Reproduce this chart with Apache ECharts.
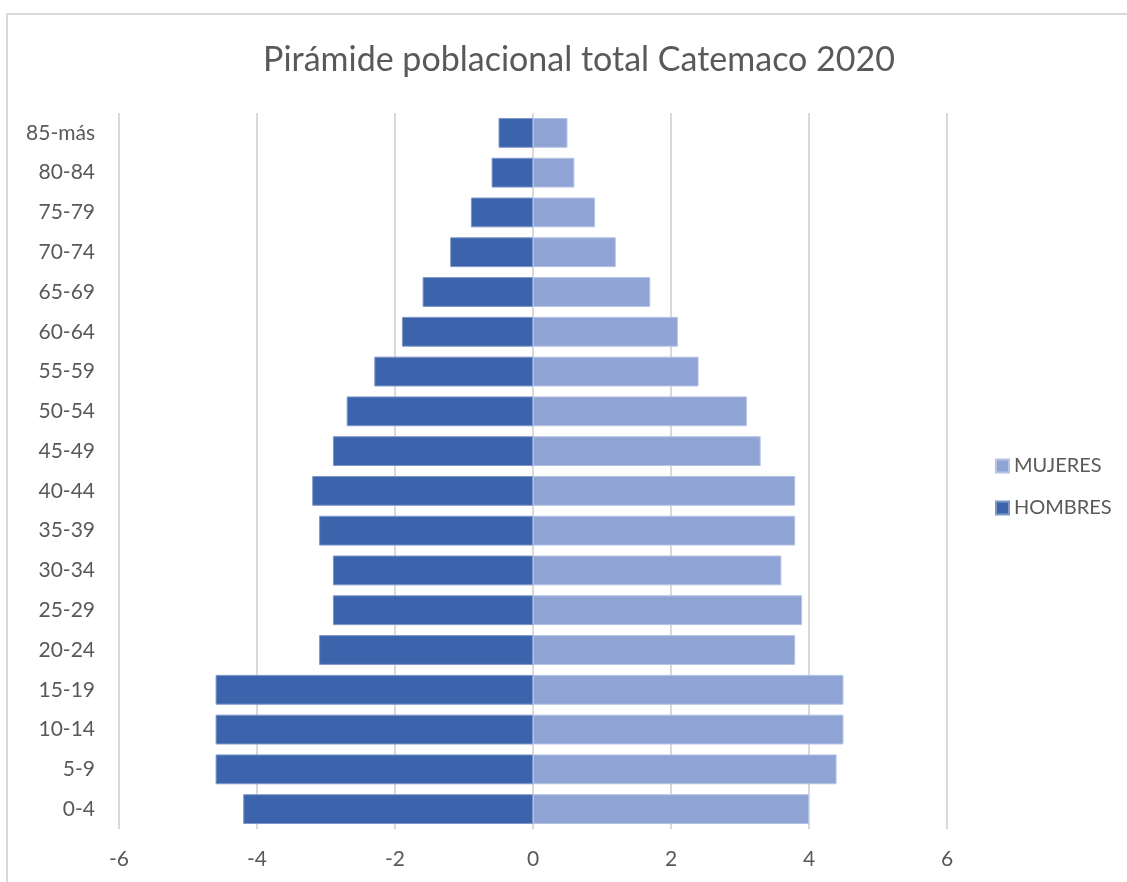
<!DOCTYPE html>
<html><head><meta charset="utf-8">
<script src="https://cdn.jsdelivr.net/npm/echarts@6/dist/echarts.min.js"></script>
<style>html,body{margin:0;padding:0;background:#fff}#c{width:1127px;height:882px}</style>
</head><body><div id="c"></div>
<script>
const categories = ['0-4','5-9','10-14','15-19','20-24','25-29','30-34','35-39','40-44','45-49','50-54','55-59','60-64','65-69','70-74','75-79','80-84','85-más'];
const hombres = [-4.2,-4.6,-4.6,-4.6,-3.1,-2.9,-2.9,-3.1,-3.2,-2.9,-2.7,-2.3,-1.9,-1.6,-1.2,-0.9,-0.6,-0.5];
const mujeres = [4.0,4.4,4.5,4.5,3.8,3.9,3.6,3.8,3.8,3.3,3.1,2.4,2.1,1.7,1.2,0.9,0.6,0.5];
const xTicks = {min:-6, max:6, interval:2};
const font = 'Lato, "Open Sans", sans-serif';
const chart = echarts.init(document.getElementById('c'));
chart.setOption({
  animation:false,
  title:{text:'Pirámide poblacional total Catemaco 2020', left:574, top:38, textAlign:'center',
    textStyle:{fontFamily:font, fontSize:34, fontWeight:'normal', color:'#595959'}},
  graphic:[{type:'rect', shape:{x:7,y:14,width:1200,height:1000}, style:{fill:null, stroke:'#d9d9d9', lineWidth:2}, silent:true}],
  legend:{orient:'vertical', left:990, top:451, itemGap:22, itemWidth:13, itemHeight:13, icon:'rect',
    data:['MUJERES','HOMBRES'], textStyle:{fontFamily:font, fontSize:20, color:'#595959', padding:[0,0,0,0]}},
  grid:{left:119, right:180, top:113, bottom:53, containLabel:false},
  xAxis:{type:'value', min:xTicks.min, max:xTicks.max, interval:xTicks.interval,
    axisLine:{show:false}, axisTick:{show:false},
    axisLabel:{fontFamily:font, fontSize:21, color:'#595959', margin:20},
    splitLine:{show:true, lineStyle:{color:'#d9d9d9', width:2}}},
  yAxis:{type:'category', data:categories, axisLine:{show:false}, axisTick:{show:false},
    axisLabel:{fontFamily:font, fontSize:21, color:'#595959', margin:24}},
  series:[
    {name:'MUJERES', type:'bar', data:mujeres, barGap:'-100%', barCategoryGap:'25%',
      itemStyle:{color:'#8fa4d5', borderColor:'#b7c4e5', borderWidth:1}},
    {name:'HOMBRES', type:'bar', data:hombres, barGap:'-100%', barCategoryGap:'25%',
      itemStyle:{color:'#3c64ac', borderColor:'#7f98c8', borderWidth:1}}
  ]
});
</script></body></html>
